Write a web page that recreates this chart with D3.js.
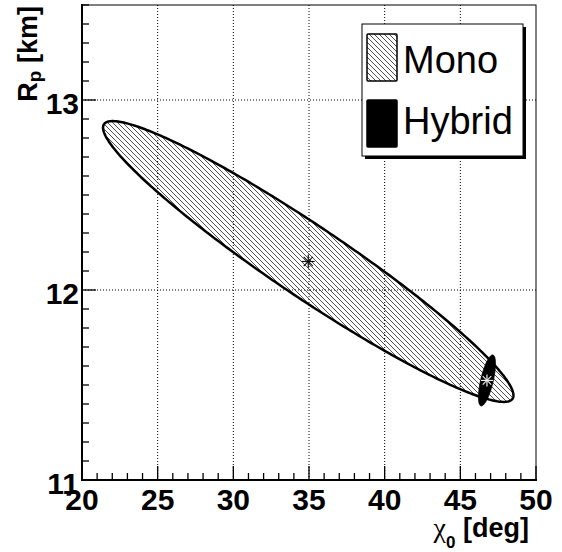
<!DOCTYPE html>
<html>
<head>
<meta charset="utf-8">
<script src="https://cdn.jsdelivr.net/npm/d3@7"></script>
<style>
  html, body { margin: 0; padding: 0; background: #fff; }
  svg { display: block; }
  text { font-family: "Liberation Sans", Arial, Helvetica, sans-serif; }
</style>
</head>
<body>
<svg id="chart" width="562" height="552"></svg>
<script>
// Axis ranges and tick labels
const xDomain = [20, 50];
const yDomain = [11, 13.5];
const xMajorTicks = [20, 25, 30, 35, 40, 45, 50];
const yMajorTicks = [11, 12, 13];
const xGridTicks = [25, 30, 35, 40, 45];
const yGridTicks = [12, 13];

// Confidence contours: centre, widths and correlation for each model
const seriesNames = ["Mono", "Hybrid"];
const centreX = [34.95, 46.76];
const centreY = [12.15, 11.524];
const sigmaX = [13.56, 0.56];
const sigmaY = [0.739, 0.134];
const rho = [-0.953, 0.66];

const svg = d3.select("#chart");
const plotLeft = 82, plotRight = 536, plotTop = 5, plotBottom = 480;

const x = d3.scaleLinear().domain(xDomain).range([plotLeft, plotRight]);
const y = d3.scaleLinear().domain(yDomain).range([plotBottom, plotTop]);

// Hatch pattern ("\\\\" direction)
const defs = svg.append("defs");
const pat = defs.append("pattern")
  .attr("id", "hatch")
  .attr("patternUnits", "userSpaceOnUse")
  .attr("width", 5).attr("height", 5);
pat.append("path")
  .attr("d", "M-1,-1 L6,6 M-1,4 L1,6 M4,-1 L6,1")
  .attr("stroke", "#222").attr("stroke-width", 0.8).attr("fill", "none");

// Grid lines
svg.append("g").selectAll("line").data(xGridTicks).join("line")
  .attr("x1", d => x(d)).attr("x2", d => x(d))
  .attr("y1", plotTop).attr("y2", plotBottom)
  .attr("stroke", "#000").attr("stroke-width", 1).attr("stroke-dasharray", "1,2");
svg.append("g").selectAll("line").data(yGridTicks).join("line")
  .attr("x1", plotLeft).attr("x2", plotRight)
  .attr("y1", d => y(d)).attr("y2", d => y(d))
  .attr("stroke", "#000").attr("stroke-width", 1).attr("stroke-dasharray", "1,2");

// Frame
svg.append("rect")
  .attr("x", plotLeft).attr("y", plotTop)
  .attr("width", plotRight - plotLeft).attr("height", plotBottom - plotTop)
  .attr("fill", "none").attr("stroke", "#000").attr("stroke-width", 1);

// Contour outlines
function contour(i) {
  const pts = d3.range(0, 360).map(k => {
    const t = k * Math.PI / 180;
    const px = centreX[i] + sigmaX[i] * Math.cos(t);
    const py = centreY[i] + sigmaY[i] * (rho[i] * Math.cos(t) + Math.sqrt(1 - rho[i] * rho[i]) * Math.sin(t));
    return [x(px), y(py)];
  });
  return d3.line().curve(d3.curveLinearClosed)(pts);
}

svg.append("path")
  .attr("d", contour(0))
  .attr("fill", "url(#hatch)")
  .attr("stroke", "#000").attr("stroke-width", 2.5);

svg.append("path")
  .attr("d", contour(1))
  .attr("fill", "#000")
  .attr("stroke", "#000").attr("stroke-width", 1);

// Asterisk markers at the contour centres
function star(cx, cy, r, color) {
  const g = svg.append("g").attr("transform", `translate(${cx},${cy})`);
  [0, 45, 90, 135].forEach(a => {
    const rad = a * Math.PI / 180;
    g.append("line")
      .attr("x1", -r * Math.cos(rad)).attr("y1", -r * Math.sin(rad))
      .attr("x2", r * Math.cos(rad)).attr("y2", r * Math.sin(rad))
      .attr("stroke", color).attr("stroke-width", 1.2);
  });
}
star(x(centreX[0]), y(centreY[0]), 6.5, "#111");
star(x(centreX[1]), y(centreY[1]), 6, "#eee");

// Axes: ticks pointing inward
const xAxis = svg.append("g");
xAxis.append("line").attr("x1", plotLeft - 1).attr("x2", plotRight + 1)
  .attr("y1", plotBottom).attr("y2", plotBottom).attr("stroke", "#000").attr("stroke-width", 2);
const xMinor = d3.range(xDomain[0], xDomain[1] + 0.5, 1);
xAxis.selectAll("line.tk").data(xMinor).join("line").attr("class", "tk")
  .attr("x1", d => x(d)).attr("x2", d => x(d))
  .attr("y1", plotBottom).attr("y2", d => plotBottom - (d % 5 === 0 ? 14 : 7))
  .attr("stroke", "#000").attr("stroke-width", 1.3);
xAxis.selectAll("text").data(xMajorTicks).join("text")
  .attr("x", d => x(d)).attr("y", plotBottom + 30)
  .attr("text-anchor", "middle")
  .attr("font-size", 30).attr("font-weight", "bold")
  .text(d => d);

const yAxis = svg.append("g");
yAxis.append("line").attr("x1", plotLeft).attr("x2", plotLeft)
  .attr("y1", plotTop - 1).attr("y2", plotBottom + 1).attr("stroke", "#000").attr("stroke-width", 2);
const yMinor = d3.range(0, 26).map(k => yDomain[0] + k * 0.1);
yAxis.selectAll("line.tk").data(yMinor).join("line").attr("class", "tk")
  .attr("x1", plotLeft).attr("x2", (d, k) => plotLeft + (k % 10 === 0 ? 14 : 7))
  .attr("y1", d => y(d)).attr("y2", d => y(d))
  .attr("stroke", "#000").attr("stroke-width", 1.3);
yAxis.selectAll("text").data(yMajorTicks).join("text")
  .attr("x", plotLeft - 3).attr("y", d => y(d) + 14)
  .attr("text-anchor", "end")
  .attr("font-size", 30).attr("font-weight", "bold")
  .text(d => d);

// Axis titles
const xt = svg.append("text")
  .attr("x", 529).attr("y", 537)
  .attr("text-anchor", "end")
  .attr("font-size", 27).attr("font-weight", "bold");
xt.append("tspan").attr("font-family", "Liberation Serif, serif").attr("font-weight", "normal")
  .attr("font-size", 28).text("χ");
xt.append("tspan").attr("font-size", 17).attr("dy", 11).text("0");
xt.append("tspan").attr("dy", -11).text(" [deg]");

const yt = svg.append("text")
  .attr("transform", "translate(37,6) rotate(-90)")
  .attr("text-anchor", "end")
  .attr("font-size", 27).attr("font-weight", "bold");
yt.append("tspan").text("R");
yt.append("tspan").attr("font-size", 19).attr("dy", 4).text("p");
yt.append("tspan").attr("dy", -4).text(" [km]");

// Legend with drop shadow
const lg = svg.append("g");
const lx = 362, ly = 24, lw = 161, lh = 132;
lg.append("rect").attr("x", lx + 3).attr("y", ly + 3).attr("width", lw).attr("height", lh).attr("fill", "#000");
lg.append("rect").attr("x", lx).attr("y", ly).attr("width", lw).attr("height", lh)
  .attr("fill", "#fff").attr("stroke", "#000").attr("stroke-width", 1);
const entryY = [34, 100];
const entryFill = ["url(#hatch)", "#000"];
seriesNames.forEach((name, i) => {
  lg.append("rect").attr("x", 367).attr("y", entryY[i]).attr("width", 30).attr("height", 47)
    .attr("fill", entryFill[i]).attr("stroke", "#000").attr("stroke-width", 1.5).attr("rx", 1);
  lg.append("text").attr("x", 403).attr("y", entryY[i] + (i === 0 ? 39 : 34))
    .attr("font-size", 38).text(name);
});
</script>
</body>
</html>
